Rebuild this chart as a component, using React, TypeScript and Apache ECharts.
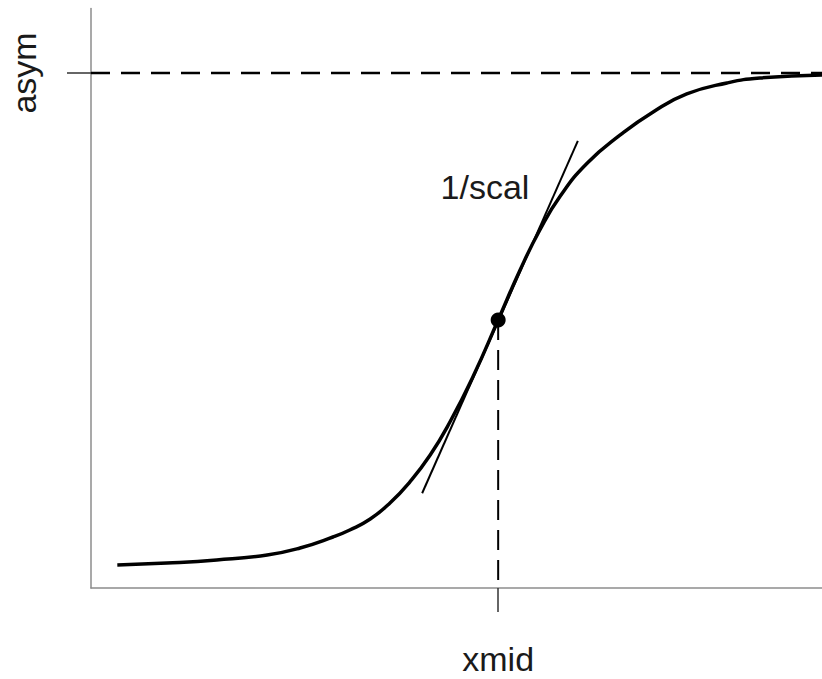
import React, { useEffect, useRef } from "react";
import * as echarts from "echarts";

// x in arbitrary units (0..100), y in units where asym = 100
const curveX = [3.6, 10.4, 17.2, 24.1, 28.6, 33.1, 35.4, 38.2, 40.9, 43.6, 46.4, 49.1, 52.3, 55.7, 58.7, 61.4, 64.2, 67.9, 72.4, 76.9, 81.5, 87.0, 91.5, 100];
const curveY = [4.47, 4.85, 5.44, 6.41, 7.77, 9.9, 11.26, 13.4, 16.5, 20.58, 25.83, 32.23, 41.17, 52.04, 61.75, 69.51, 76.12, 82.52, 87.96, 92.43, 95.92, 98.06, 99.03, 99.61];
const asym = 100;
const xmid = 55.7;
const midY = 52.04;
const tangentX = [45.3, 66.6];
const tangentY = [18.4, 86.8];
const xMax = 100;
const yMax = 112.5;
const xLabel = "xmid";
const yLabel = "asym";
const slopeLabel = "1/scal";

const FONT = "'Liberation Sans', Arial, Helvetica, sans-serif";

export default function App() {
  const ref = useRef<HTMLDivElement>(null);
  useEffect(() => {
    if (!ref.current) return;
    const chart = echarts.init(ref.current, undefined, { renderer: "svg" });
    const curve = curveX.map((x, i) => [x, curveY[i]]);
    const tangent = tangentX.map((x, i) => [x, tangentY[i]]);
    chart.setOption({
      animation: false,
      backgroundColor: "#ffffff",
      grid: {
        left: 91,
        right: 0,
        top: 8.6,
        bottom: 91,
        containLabel: false,
        outerBoundsMode: "none",
      },
      xAxis: {
        type: "value",
        min: 0,
        max: xMax,
        splitLine: { show: false },
        axisLine: { show: true, onZero: false, lineStyle: { color: "#8c8c8c", width: 1.5 } },
        axisTick: { show: true, length: 24, customValues: [xmid], lineStyle: { color: "#333", width: 1.5 } },
        axisLabel: {
          show: true,
          customValues: [xmid],
          formatter: () => xLabel,
          margin: 54,
          fontSize: 34,
          fontFamily: FONT,
          color: "#1a1a1a",
        },
      },
      yAxis: {
        type: "value",
        min: 0,
        max: yMax,
        splitLine: { show: false },
        axisLine: { show: true, onZero: false, lineStyle: { color: "#8c8c8c", width: 1.5 } },
        axisTick: { show: true, length: 24, customValues: [asym], lineStyle: { color: "#333", width: 1.5 } },
        axisLabel: {
          show: true,
          customValues: [asym],
          formatter: () => yLabel,
          rotate: 90,
          margin: 50,
          fontSize: 34,
          fontFamily: FONT,
          color: "#1a1a1a",
        },
      },
      graphic: [
        {
          type: "text",
          x: 485,
          y: 187,
          style: {
            text: slopeLabel,
            fontSize: 34,
            fontFamily: FONT,
            fill: "#1a1a1a",
            textAlign: "center",
            textVerticalAlign: "middle",
          },
        },
      ],
      series: [
        {
          type: "line",
          data: [[0, asym], [xMax, asym]],
          symbol: "none",
          clip: false,
          lineStyle: { color: "#000", width: 2.5, type: [19, 11] },
          z: 2,
        },
        {
          type: "line",
          data: [[xmid, midY], [xmid, 0]],
          symbol: "none",
          clip: false,
          lineStyle: { color: "#000", width: 2, type: [20, 10] },
          z: 2,
        },
        {
          type: "line",
          data: tangent,
          symbol: "none",
          lineStyle: { color: "#000", width: 2 },
          z: 3,
        },
        {
          type: "line",
          data: curve,
          symbol: "none",
          smooth: 0.5,
          lineStyle: { color: "#000", width: 3.5 },
          z: 4,
        },
        {
          type: "scatter",
          data: [[xmid, midY]],
          symbol: "circle",
          symbolSize: 15,
          itemStyle: { color: "#000", opacity: 1 },
          z: 5,
        },
      ],
    });
    return () => chart.dispose();
  }, []);
  return (
    <div
      ref={ref}
      style={{ position: "fixed", left: 0, top: 0, width: 822, height: 679, background: "#fff" }}
    />
  );
}
